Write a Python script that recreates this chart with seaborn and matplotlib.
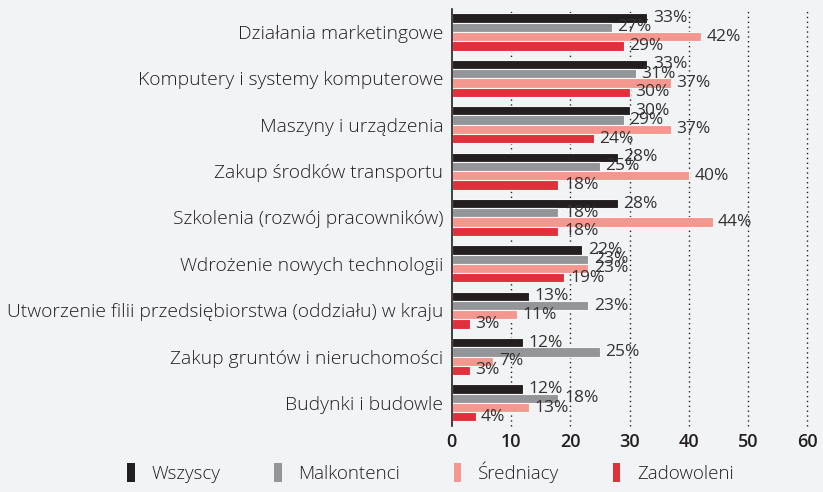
import pandas as pd
import seaborn as sns
import matplotlib.pyplot as plt
from matplotlib.patches import Patch

categories = [
    "Działania marketingowe",
    "Komputery i systemy komputerowe",
    "Maszyny i urządzenia",
    "Zakup środków transportu",
    "Szkolenia (rozwój pracowników)",
    "Wdrożenie nowych technologii",
    "Utworzenie filii przedsiębiorstwa (oddziału) w kraju",
    "Zakup gruntów i nieruchomości",
    "Budynki i budowle",
]
groups = ["Wszyscy", "Malkontenci", "Średniacy", "Zadowoleni"]
wszyscy = [33, 33, 30, 28, 28, 22, 13, 12, 12]
malkontenci = [27, 31, 29, 25, 18, 23, 23, 25, 18]
sredniacy = [42, 37, 37, 40, 44, 23, 11, 7, 13]
zadowoleni = [29, 30, 24, 18, 18, 19, 3, 3, 4]
colors = ["#231f20", "#939598", "#f4978e", "#e0303b"]
xticks = [0, 10, 20, 30, 40, 50, 60]

rows = []
for g, vals in zip(groups, [wszyscy, malkontenci, sredniacy, zadowoleni]):
    for c, v in zip(categories, vals):
        rows.append({"kategoria": c, "grupa": g, "wartosc": v})
df = pd.DataFrame(rows)

bg = "#f2f3f5"
sns.set_style("white")
plt.rcParams["font.family"] = ["Open Sans", "DejaVu Sans"]
plt.rcParams["font.weight"] = "light"

fig = plt.figure(figsize=(8.23, 4.92), dpi=100, facecolor=bg)
ax = fig.add_axes([0.549, 0.134, 0.432, 0.848])
ax.set_facecolor(bg)

sns.barplot(data=df, y="kategoria", x="wartosc", hue="grupa", orient="h",
            palette=colors, saturation=1, width=0.8, edgecolor="#f7f7f7",
            linewidth=0.8, legend=False, ax=ax)

for cont in ax.containers:
    ax.bar_label(cont, fmt="%d%%", padding=4, fontsize=12.5, color="#333333",
                 fontweight="normal")

ax.set_xlim(0, 60)
ax.set_xticks(xticks)
ax.set_xticklabels([str(t) for t in xticks], fontsize=13, fontweight="semibold",
                   color="#231f20")
ax.tick_params(axis="x", length=0, pad=5)
ax.tick_params(axis="y", length=0, pad=6, labelsize=13.9, labelcolor="#231f20")
ax.set_xlabel("")
ax.set_ylabel("")
for t in xticks[1:]:
    ax.axvline(t, color="#231f20", linestyle=(0, (1, 2.5)), linewidth=1,
               zorder=0, clip_on=False)
for s in ["top", "right", "bottom"]:
    ax.spines[s].set_visible(False)
ax.spines["left"].set_color("#231f20")
ax.spines["left"].set_linewidth(1.2)

handles = [Patch(facecolor=c, edgecolor="none") for c in colors]
fig.legend(handles, groups, loc="lower center", bbox_to_anchor=(0.523, -0.015),
           ncol=4, frameon=False, fontsize=13.5, handlelength=0.4,
           handleheight=1.2, handletextpad=0.9, columnspacing=2.85,
           labelcolor="#231f20")

fig.savefig("out.png", dpi=100, facecolor=bg)
